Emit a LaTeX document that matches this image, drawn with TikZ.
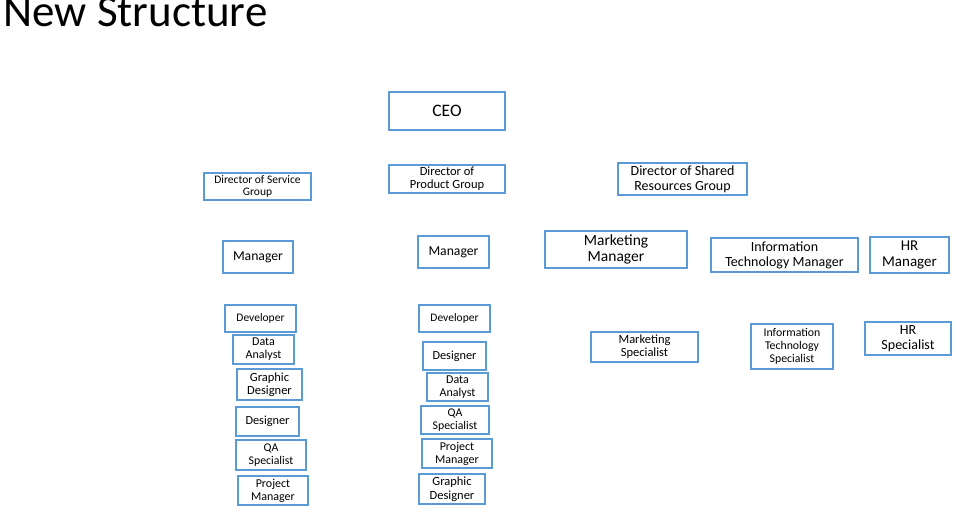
\documentclass[tikz,border=0pt]{standalone}
\usepackage{fontspec}
\setmainfont{Carlito}
\definecolor{boxblue}{RGB}{91,155,213}
\begin{document}
\begin{tikzpicture}[x=1pt,y=-1pt,
  box/.style={draw=boxblue, line width=2pt, inner sep=0pt, align=center, fill=white, text=black},
  sz/.style 2 args={minimum width=#1pt, minimum height=#2pt},
  fs/.style 2 args={font=\fontsize{#1}{#2}\selectfont}]
\useasboundingbox (0,0) rectangle (975,529);
\node[anchor=base west, fs={45}{45}] (title) at (0,27) {New Structure};
% top
\node[box, sz={116}{38}, fs={17.5}{18}] (ceo) at (447,111) {CEO};
\node[box, sz={107}{27}, fs={11.5}{12}] (dsvc) at (257.5,186.5) {Director of Service\\Group};
\node[box, sz={116}{28}, fs={12.5}{13}] (dprod) at (447,179) {Director of\\Product Group};
\node[box, sz={129}{32}, fs={14}{15}] (dshared) at (682.5,179) {Director of Shared\\Resources Group};
% managers
\node[box, sz={70}{32}, fs={13.7}{14}] (mgrl) at (258,257) {Manager};
\node[box, sz={71}{32}, fs={13.7}{14}] (mgrm) at (453.5,252) {Manager};
\node[box, sz={142}{37}, fs={15.5}{16}] (mktmgr) at (616,249.5) {Marketing\\Manager};
\node[box, sz={147}{34}, fs={14}{15}] (itmgr) at (784.5,255) {Information\\Technology Manager};
\node[box, sz={79}{36}, fs={15}{16}] (hrmgr) at (909.5,255) {HR\\Manager};
% left column
\node[box, sz={71}{27}, fs={11.5}{12}] (devl) at (260.5,318.5) {Developer};
\node[box, sz={61}{29}, fs={12}{13}] (dal) at (263.5,349.5) {Data\\Analyst};
\node[box, sz={65}{31}, fs={12.5}{13.5}] (gdl) at (269.5,384.5) {Graphic\\Designer};
\node[box, sz={63}{29}, fs={12.3}{13}] (desl) at (267.5,421.5) {Designer};
\node[box, sz={70}{30}, fs={11.8}{13}] (qal) at (271,455) {QA\\Specialist};
\node[box, sz={70}{29}, fs={12}{13}] (pml) at (273,490.5) {Project\\Manager};
% middle column
\node[box, sz={71}{27}, fs={11.5}{12}] (devm) at (454.5,318.5) {Developer};
\node[box, sz={63}{28}, fs={12.3}{13}] (desm) at (454.5,356) {Designer};
\node[box, sz={61}{28}, fs={12}{13}] (dam) at (457.5,387) {Data\\Analyst};
\node[box, sz={68}{28}, fs={11.8}{13}] (qam) at (455,420) {QA\\Specialist};
\node[box, sz={70}{29}, fs={12}{13}] (pmm) at (457,453.5) {Project\\Manager};
\node[box, sz={66}{30}, fs={12.5}{13.5}] (gdm) at (452,489) {Graphic\\Designer};
% specialists
\node[box, sz={107}{30}, fs={12.5}{13}] (mktsp) at (644.5,347) {Marketing\\Specialist};
\node[box, sz={82}{45}, fs={11.8}{13}] (itsp) at (792,346.5) {Information\\Technology\\Specialist};
\node[box, sz={86}{33}, fs={14}{15}] (hrsp) at (908,338.5) {HR\\Specialist};
\end{tikzpicture}
\end{document}
